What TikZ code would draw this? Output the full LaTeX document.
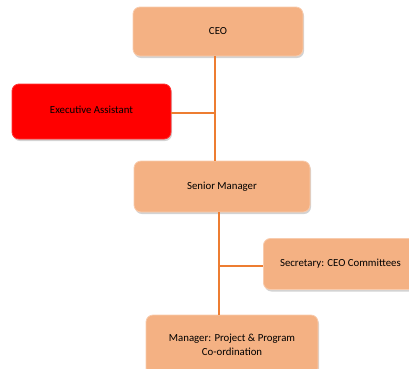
\documentclass[tikz,border=0pt]{standalone}
\usepackage{fontspec}
\setmainfont{Carlito}
\usetikzlibrary{shadows}
\definecolor{boxfill}{HTML}{F4B183}
\definecolor{boxedge}{HTML}{F8CBAD}
\definecolor{linecol}{HTML}{ED7D31}
\tikzset{
  orgbox/.style={rounded corners=7pt, fill=boxfill, draw=boxedge, line width=0.8pt,
    drop shadow={shadow xshift=1pt, shadow yshift=-2pt, opacity=0.35},
    font=\fontsize{10.8}{13.5}\selectfont, align=center, inner sep=0pt},
  redbox/.style={orgbox, fill=red, draw=red!80!white},
  conn/.style={draw=linecol, line width=1.4pt}
}
\begin{document}
\begin{tikzpicture}[x=1pt,y=-1pt]
\useasboundingbox (0,0) rectangle (409,368);
\clip (0,0) rectangle (409,368);
\node[orgbox, minimum width=170pt, minimum height=49pt] (ceo) at (218,31.5) {CEO};
\node[redbox, minimum width=159pt, minimum height=55pt] (ea) at (91.5,111.5) {\raisebox{4pt}{Executive Assistant}};
\node[orgbox, minimum width=176pt, minimum height=51pt] (sm) at (222,186.5) {Senior Manager};
\node[orgbox, minimum width=154pt, minimum height=51pt, anchor=west] (sec) at (263,264) {\raisebox{-3pt}{Secretary: CEO Committees}};
\node[orgbox, minimum width=172pt, minimum height=60pt] (mgr) at (232,345) {Manager: Project \& Program\\Co-ordination};
\coordinate (j1) at (215,113);
\coordinate (j2) at (219,266);
\draw[conn] (ceo.south -| j1) -- (sm.north -| j1);
\draw[conn] (ea.east |- j1) -- (j1);
\draw[conn] (sm.south -| j2) -- (mgr.north -| j2);
\draw[conn] (j2) -- (sec.west |- j2);
\end{tikzpicture}
\end{document}
